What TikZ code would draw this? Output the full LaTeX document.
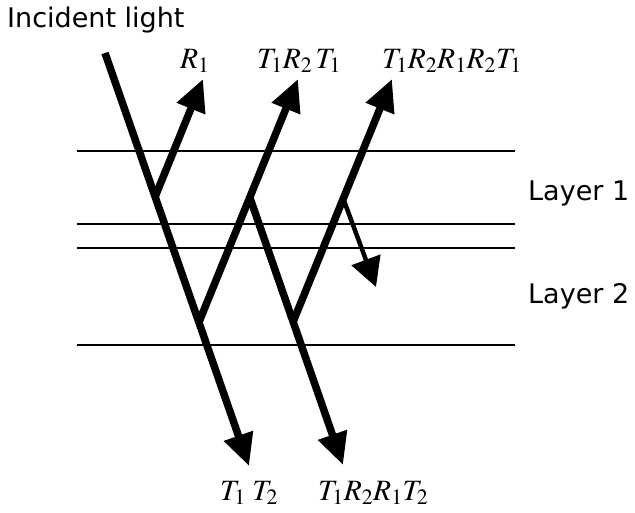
\documentclass[tikz,border=0pt]{standalone}
\usepackage{mathptmx}
\usepackage[no-math]{fontspec}
\setmainfont{DejaVu Sans}
\usetikzlibrary{arrows.meta}

\begin{document}
\begin{tikzpicture}[
  x=1pt,y=-1pt,
  every node/.style={inner sep=0pt,font=\fontsize{27}{32}\selectfont},
  txt/.style={anchor=base west},
  mlbl/.style={anchor=base west,font=\fontsize{29.5}{34}\selectfont},
  layer/.style={line width=2pt},
  ray/.style={line width=7.5pt,-{Triangle[width=29pt,length=32pt]}},
  thinray/.style={line width=4.5pt,-{Triangle[width=30pt,length=29pt]}}
]
\useasboundingbox (0,0) rectangle (635,512);
% layer boundaries
\foreach \y in {151,224,248,345}
  \draw[layer] (77,\y) -- (515,\y);
% texts
\node[txt] (inc) at (7,27) {Incident light};
\node[txt] (lay1) at (528,200) {Layer 1};
\node[txt] (lay2) at (528,303) {Layer 2};
\node[mlbl] (r1) at (180,68) {$R_1$};
\node[mlbl] (trt) at (257,68) {$T_1R_2\,T_1$};
\node[mlbl] (trrrt) at (382,68) {$T_1R_2R_1R_2T_1$};
\node[mlbl] (tt) at (220,500) {$T_1\;T_2$};
\node[mlbl] (trrt) at (318,500) {$T_1R_2R_1T_2$};
% ray points
\coordinate (src) at (105,53);
\coordinate (A) at (155,197);
\coordinate (B) at (199,322);
\coordinate (C) at (250,198);
\coordinate (D) at (293,322);
\coordinate (E) at (343,198);
\coordinate (outA) at (203,79);
\coordinate (outC) at (298,79);
\coordinate (outE) at (392,79);
\coordinate (outT) at (249,466);
\coordinate (outD) at (343,465);
\coordinate (outS) at (376,287);
% rays
\draw[ray] (src) -- (outT);
\draw[ray] (A) -- (outA);
\draw[ray] (B) -- (outC);
\draw[ray] (C) -- (outD);
\draw[ray] (D) -- (outE);
\draw[thinray] (E) -- (outS);
\end{tikzpicture}
\end{document}
